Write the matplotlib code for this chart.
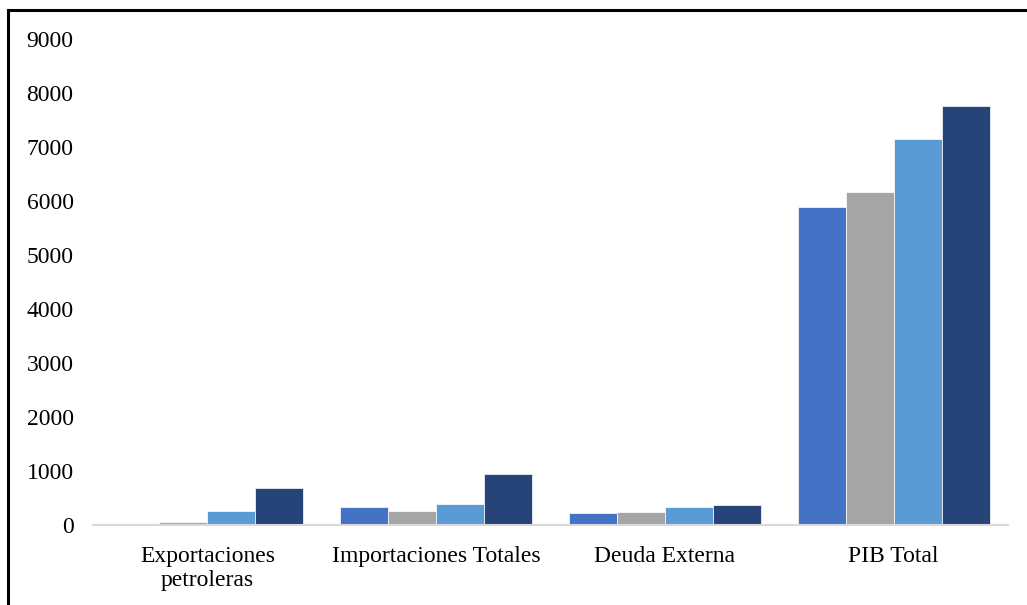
import matplotlib.pyplot as plt
import numpy as np
from matplotlib.lines import Line2D

plt.rcParams['font.family'] = ['Liberation Serif', 'DejaVu Serif']

categories = ['Exportaciones\npetroleras', 'Importaciones Totales', 'Deuda Externa', 'PIB Total']
serie1 = [0, 335, 230, 5890]
serie2 = [50, 265, 245, 6160]
serie3 = [265, 385, 330, 7155]
serie4 = [680, 950, 365, 7755]
colores = ['#4472C4', '#A5A5A5', '#5B9BD5', '#264478']

fig = plt.figure(figsize=(10.27, 6.05), dpi=100)
ax = fig.add_axes([0.0906, 0.1322, 0.8909, 0.8033])

x = np.arange(len(categories))
w = 0.21
for i, s in enumerate([serie1, serie2, serie3, serie4]):
    ax.bar(x + (i - 1.5) * w, s, w, color=colores[i], edgecolor='white', linewidth=0.5)

ax.set_xlim(-0.5, 3.5)
ax.set_ylim(0, 9000)
ax.set_yticks(range(0, 9001, 1000))
ax.set_xticks(x)
ax.set_xticklabels(categories, fontsize=17, linespacing=1.2)
ax.tick_params(axis='y', length=0, pad=14, labelsize=17)
ax.tick_params(axis='x', length=0, pad=15)
for sp in ['top', 'right', 'left']:
    ax.spines[sp].set_visible(False)
ax.spines['bottom'].set_color('#D9D9D9')
ax.spines['bottom'].set_linewidth(1.5)

# marco de la figura (solo arriba e izquierda)
fig.add_artist(Line2D([8 / 1027, 1], [1 - 10 / 605, 1 - 10 / 605], color='black', lw=2.2, transform=fig.transFigure))
fig.add_artist(Line2D([8 / 1027, 8 / 1027], [0, 1 - 10 / 605], color='black', lw=2.2, transform=fig.transFigure))

plt.savefig('out.png')
